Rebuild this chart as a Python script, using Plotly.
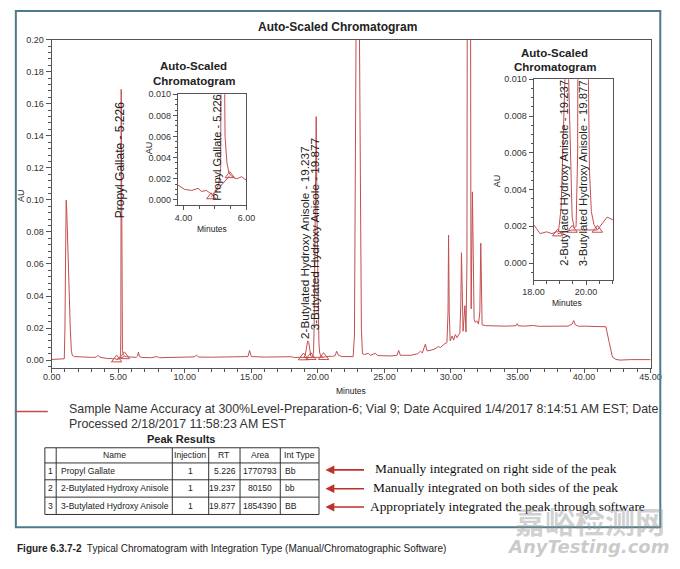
import plotly.graph_objects as go

W, H = 680, 569

# ---------------- data ----------------
time_min = [
    0.00, 0.30, 0.60, 0.85, 0.95, 1.00, 1.05, 1.09, 1.13, 1.20, 1.30, 1.40, 1.48, 1.55, 1.70,
    2.00, 2.50, 3.00, 3.35, 3.49, 3.62, 4.03, 4.26, 4.46, 4.57, 4.72, 4.82, 4.92, 5.03, 5.12,
    5.18, 5.20, 5.226, 5.25, 5.28, 5.32, 5.38, 5.44, 5.51, 5.60, 5.69, 5.77, 5.85, 5.93, 6.00,
    6.10, 6.35, 6.45, 6.52, 6.60, 6.80, 7.50, 7.90, 8.10, 9.00, 10.00, 10.70, 10.88, 11.05,
    12.00, 13.00, 14.00, 14.75, 14.87, 15.00, 16.00, 17.00, 17.50, 18.00, 18.10, 18.25, 18.50,
    18.70, 18.86, 18.95, 19.05, 19.15, 19.237, 19.32, 19.40, 19.47, 19.55, 19.62, 19.68, 19.72,
    19.80, 19.877, 19.95, 20.02, 20.08, 20.13, 20.20, 20.30, 20.43, 20.60, 20.80, 20.95, 21.10,
    21.30, 21.41, 21.55, 21.80, 22.30, 22.65, 22.75, 22.85, 22.95, 23.05, 23.15, 23.20, 23.27,
    23.35, 23.50, 23.79, 23.95, 24.32, 24.50, 25.50, 25.95, 26.07, 26.20, 27.00, 27.50, 27.71,
    27.85, 28.08, 28.20, 28.44, 28.80, 29.05, 29.20, 29.50, 29.70, 29.78, 29.82, 29.87, 29.94,
    30.09, 30.20, 30.33, 30.45, 30.67, 30.74, 30.79, 30.84, 30.91, 31.05, 31.13, 31.20, 31.23,
    31.35, 31.47, 31.50, 31.52, 31.61, 31.68, 31.74, 31.83, 31.95, 32.07, 32.17, 32.24, 32.29,
    32.34, 32.60, 33.00, 33.50, 34.00, 34.50, 34.90, 34.98, 35.06, 35.50, 36.20, 36.60, 37.00,
    38.00, 38.80, 39.10, 39.22, 39.35, 39.60, 40.00, 41.00, 41.64, 41.89, 42.13, 42.40, 42.70,
    43.50, 44.20, 45.00,
]
absorbance_au = [
    0.0004, 0.0005, 0.0003, 0.0004, 0.0008, 0.020, 0.080, 0.0998, 0.095, 0.072, 0.045, 0.020, 0.006, 0.003, 0.0022,
    0.0020, 0.0018, 0.0017, 0.0018, 0.0030, 0.0018, 0.0010, 0.0009, 0.0011, 0.0008, 0.0009, 0.0007, 0.0005, 0.0009, 0.0015,
    0.0030, 0.020, 0.169, 0.080, 0.020, 0.006, 0.0035, 0.0026, 0.0023, 0.0021, 0.0020, 0.0021, 0.0022, 0.0020, 0.0019,
    0.0017, 0.0017, 0.0025, 0.0050, 0.0022, 0.0016, 0.0015, 0.0022, 0.0015, 0.0016, 0.0016, 0.0020, 0.0030, 0.0019,
    0.0018, 0.0019, 0.0019, 0.0022, 0.0060, 0.0022, 0.0019, 0.0022, 0.0020, 0.0021, 0.0019, 0.0016, 0.0017,
    0.0016, 0.0017, 0.0017, 0.0030, 0.0080, 0.0120, 0.0110, 0.0060, 0.0025, 0.0019, 0.0020, 0.0060, 0.020,
    0.090, 0.152, 0.080, 0.030, 0.011, 0.0050, 0.0028, 0.0021, 0.0018, 0.0021, 0.0025, 0.0024, 0.0023,
    0.0028, 0.0055, 0.0030, 0.0022, 0.0020, 0.0022, 0.015, 0.150, 0.330, 0.300, 0.150, 0.087, 0.020,
    0.0040, 0.0035, 0.0042, 0.0030, 0.0042, 0.0028, 0.0026, 0.0030, 0.0060, 0.0030, 0.0030, 0.0040, 0.0055,
    0.0045, 0.0100, 0.0058, 0.0060, 0.0070, 0.0085, 0.0078, 0.0100, 0.0110, 0.030, 0.078, 0.030, 0.0120,
    0.0150, 0.0125, 0.0160, 0.0140, 0.0170, 0.035, 0.067, 0.030, 0.0180, 0.0340, 0.0175, 0.060, 0.250,
    0.330, 0.250, 0.060, 0.0320, 0.105, 0.040, 0.0255, 0.0235, 0.0245, 0.0225, 0.030, 0.073, 0.030,
    0.0220, 0.0215, 0.0213, 0.0215, 0.0212, 0.0213, 0.0215, 0.0228, 0.0214, 0.0212, 0.0216, 0.0211, 0.0212,
    0.0210, 0.0212, 0.0225, 0.0247, 0.0220, 0.0211, 0.0212, 0.0210, 0.0208, 0.0110, 0.0019, 0.0004, 0.0000,
    0.0003, 0.0002, 0.0003,
]

# integration marks (triangles) and baselines
pg_marks_t = [4.88, 5.47]
pg_marks_au = [0.0003, 0.0023]
bha_marks_t = [18.92, 19.47, 20.43]
bha_marks_au = [0.0016, 0.0018, 0.0018]

table_header = ["", "Name", "Injection", "RT", "Area", "Int Type"]
peak_no = ["1", "2", "3"]
peak_names = ["Propyl Gallate", "2-Butylated Hydroxy Anisole", "3-Butylated Hydroxy Anisole"]
peak_injection = ["1", "1", "1"]
peak_rt = ["5.226", "19.237", "19.877"]
peak_area = ["1770793", "80150", "1854390"]
peak_int_type = ["Bb", "bb", "BB"]
notes = ["Manually integrated on right side of the peak",
         "Manually integrated on both sides of the peak",
         "Appropriately integrated the peak through software"]

main_xticks = [0, 5, 10, 15, 20, 25, 30, 35, 40, 45]
main_yticks = [0.00, 0.02, 0.04, 0.06, 0.08, 0.10, 0.12, 0.14, 0.16, 0.18, 0.20]
inset_yticks = [0.000, 0.002, 0.004, 0.006, 0.008, 0.010]

# ---------------- helpers ----------------
def px(x):
    return x / W

def py(y):
    return 1 - y / H

RED = "rgb(196,78,78)"
DARK = "#222"
AXC = "#555"
SANS = "Liberation Sans, Arial, sans-serif"
SERIF = "Liberation Serif, Times New Roman, serif"

fig = go.Figure()

for xa, ya in [("x", "y"), ("x2", "y2"), ("x3", "y3")]:
    fig.add_trace(go.Scatter(x=time_min, y=absorbance_au, mode="lines",
                             line=dict(color=RED, width=1), xaxis=xa, yaxis=ya,
                             hoverinfo="skip"))
    for mt, ma in [(pg_marks_t, pg_marks_au), (bha_marks_t, bha_marks_au)]:
        fig.add_trace(go.Scatter(x=mt, y=ma, mode="lines+markers",
                                 line=dict(color=RED, width=1),
                                 marker=dict(symbol="triangle-up-open", size=9 if xa != "x2" else 8,
                                             color=RED, line=dict(width=1)),
                                 cliponaxis=False, xaxis=xa, yaxis=ya, hoverinfo="skip"))

tickfont = dict(family=SANS, size=9, color="#333")
axis_common = dict(showline=True, linecolor=AXC, linewidth=1, mirror=True, ticks="outside",
                   tickcolor=AXC, showgrid=False, zeroline=False, tickfont=tickfont)

fig.update_layout(
    autosize=True, margin=dict(l=0, r=0, t=0, b=0),
    paper_bgcolor="white", plot_bgcolor="white", showlegend=False,
    xaxis=dict(domain=[px(42), px(661)], range=[0, 45], anchor="y", tickvals=main_xticks,
               tickformat=".2f", ticklen=4, ticklabelstandoff=-4,
               minor=dict(dtick=1, ticklen=3, tickcolor=AXC, ticks="outside"), **axis_common),
    yaxis=dict(domain=[py(366), py(35)], range=[-0.0048, 0.2], anchor="x", tickvals=main_yticks,
               tickformat=".2f", ticklen=5, minor=dict(dtick=0.004, ticklen=3, tickcolor=AXC, ticks="outside"),
               **axis_common),
    xaxis2=dict(domain=[px(172.5), px(243.3)], range=[3.82, 6.0], anchor="y2", tickvals=[4, 6],
                tickformat=".2f", ticklen=4, minor=dict(dtick=0.5, ticklen=3, tickcolor=AXC, ticks="outside"),
                **axis_common),
    yaxis2=dict(domain=[py(202), py(90)], range=[-0.0005, 0.010], anchor="x2", tickvals=inset_yticks,
                tickformat=".3f", ticklen=4, minor=dict(dtick=0.0005, ticklen=2, tickcolor=AXC, ticks="outside"),
                **axis_common),
    xaxis3=dict(domain=[px(540), px(622)], range=[18, 21.02], anchor="y3", tickvals=[18, 20],
                tickformat=".2f", ticklen=4, minor=dict(dtick=0.5, ticklen=3, tickcolor=AXC, ticks="outside"),
                **axis_common),
    yaxis3=dict(domain=[py(277), py(75)], range=[-0.0009, 0.010], anchor="x3", tickvals=inset_yticks,
                tickformat=".3f", ticklen=4, minor=dict(dtick=0.0005, ticklen=2, tickcolor=AXC, ticks="outside"),
                **axis_common),
)

ann = []
def text(x, y, s, size=9, color=DARK, family=SANS, bold=False, angle=0, xanchor="center",
         yanchor="middle", xref="paper", yref="paper", **kw):
    ann.append(dict(x=x, y=y, xref=xref, yref=yref, text=s, showarrow=False, textangle=angle,
                    xanchor=xanchor, yanchor=yanchor, borderpad=0,
                    font=dict(family=family, size=size, color=color, weight="bold" if bold else "normal", **kw)))

# titles
text(px(337), py(22), "Auto-Scaled Chromatogram", size=12, bold=True)
text(px(189), py(62), "Auto-Scaled", size=11.5, bold=True)
text(px(189), py(77), "Chromatogram", size=11.5, bold=True)
text(px(562), py(48), "Auto-Scaled", size=11.5, bold=True)
text(px(562), py(63), "Chromatogram", size=11.5, bold=True)
# axis titles
text(px(11), py(192), "AU", size=9, angle=-90)
text(px(351), py(389), "Minutes", size=8.5)
text(px(142), py(144), "AU", size=9, angle=-90)
text(px(208), py(226), "Minutes", size=8.5)
text(px(503), py(177), "AU", size=9, angle=-90)
text(px(575), py(301), "Minutes", size=8.5)

# peak labels
text(5.09, 0.125, "Propyl Gallate - 5.226", size=12, angle=-90, xref="x", yref="y")
text(19.04, 0.0732, "2-Butylated Hydroxy Anisole - 19.237", size=11.7, angle=-90, xref="x", yref="y")
text(19.77, 0.0784, "3-Butylated Hydroxy Anisole - 19.877", size=11.7, angle=-90, xref="x", yref="y")
text(5.08, 0.0049, "Propyl Gallate - 5.226", size=11, angle=-90, xref="x2", yref="y2")
text(19.17, 0.00493, "2-Butylated Hydroxy Anisole - 19.237", size=11.3, angle=-90, xref="x3", yref="y3")
text(19.87, 0.00487, "3-Butylated Hydroxy Anisole - 19.877", size=11.3, angle=-90, xref="x3", yref="y3")

# legend text
text(px(59), py(408), "Sample Name Accuracy at 300%Level-Preparation-6; Vial 9; Date Acquired 1/4/2017 8:14:51 AM EST; Date",
     size=12.4, color="#333", xanchor="left")
text(px(59), py(423), "Processed 2/18/2017 11:58:23 AM EST", size=12.4, color="#333", xanchor="left")
text(px(176), py(438), "Peak Results", size=11, bold=True)

# ---------------- table drawn from the lists ----------------
col_edges = [35, 46.7, 166.7, 204.3, 236.7, 278.3, 318.3]
row_edges = [446.7, 462, 479, 496.5, 514]
shapes = []
for xe in col_edges:
    shapes.append(dict(type="line", xref="paper", yref="paper", x0=px(xe), x1=px(xe),
                       y0=py(row_edges[0]), y1=py(row_edges[-1]), line=dict(color="#333", width=1)))
for ye in row_edges:
    shapes.append(dict(type="line", xref="paper", yref="paper", x0=px(col_edges[0]), x1=px(col_edges[-1]),
                       y0=py(ye), y1=py(ye), line=dict(color="#333", width=1)))

TF = 8.6
for i, h in enumerate(table_header):
    xc = (col_edges[i] + col_edges[i + 1]) / 2
    yc = (row_edges[0] + row_edges[1]) / 2
    text(px(xc), py(yc), h, size=TF, color="#222")

columns = [peak_no, peak_names, peak_injection, peak_rt, peak_area, peak_int_type]
aligns = ["center", "left", "center", "right", "center", "left"]
for ci, (col, al) in enumerate(zip(columns, aligns)):
    x0, x1 = col_edges[ci], col_edges[ci + 1]
    if al == "center":
        xx, anc = (x0 + x1) / 2, "center"
    elif al == "left":
        xx, anc = x0 + 3.5, "left"
    else:
        xx, anc = x1 - 3, "right"
    for ri, v in enumerate(col):
        yc = (row_edges[ri + 1] + row_edges[ri + 2]) / 2
        text(px(xx), py(yc), v, size=TF, color="#222", xanchor=anc)

# notes with arrows
for yy, note, tx in zip([469, 488, 506.5], notes, [375, 373, 370]):
    ann.append(dict(x=px(325), y=py(yy), xref="paper", yref="paper", text="", showarrow=True,
                    ax=40, ay=0, arrowhead=2, arrowsize=1.1, arrowwidth=1.6, arrowcolor="#c0302b"))
    text(px(tx), py(yy - 1), note, size=13.4, family=SERIF, color="#111", xanchor="left")

# caption
text(px(5), py(548), "<b>Figure 6.3.7-2</b>  Typical Chromatogram with Integration Type (Manual/Chromatographic Software)",
     size=10, family=SANS, color="#222", xanchor="left")
# watermark
text(px(598), py(520), "嘉峪检测网", size=30, family="Noto Sans CJK SC", color="rgba(150,150,150,0.45)", bold=True)
text(px(596), py(546), "AnyTesting.com", size=18, family="DejaVu Sans", color="rgba(150,150,150,0.5)",
     bold=True, style="italic")

fig.update_layout(annotations=ann)

# frame and legend line
shapes.append(dict(type="rect", xref="paper", yref="paper", x0=px(5), x1=px(671), y0=py(527), y1=py(6),
                   line=dict(color="rgb(77,122,140)", width=2)))
shapes.append(dict(type="line", xref="paper", yref="paper", x0=px(4), x1=px(38), y0=py(410), y1=py(410),
                   line=dict(color=RED, width=1.5)))
fig.update_layout(shapes=shapes)

fig.write_html("out.html", config={"displayModeBar": False},
               default_width="680px", default_height="569px; margin:-8px")
